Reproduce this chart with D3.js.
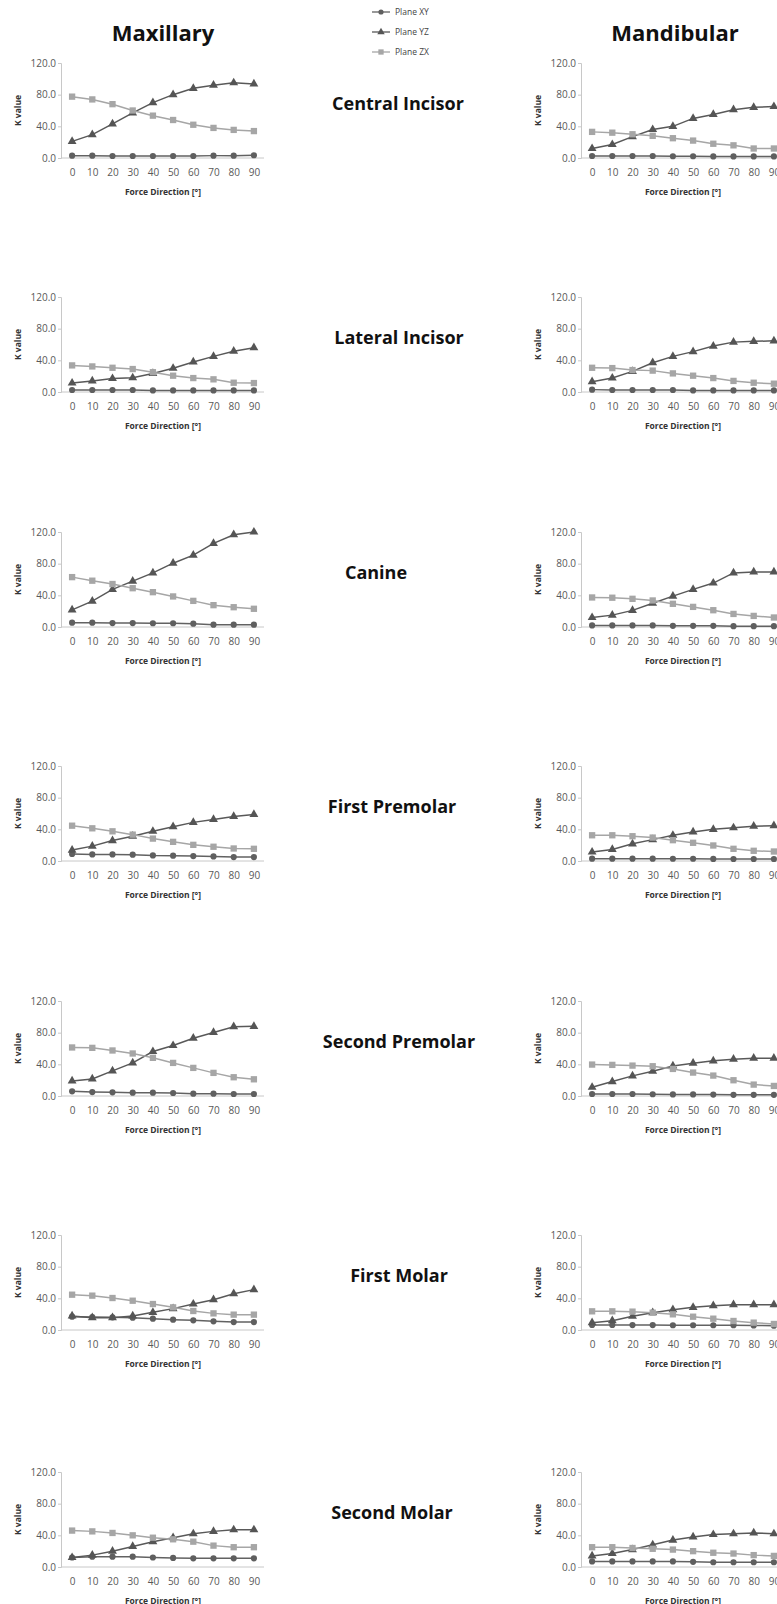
<!DOCTYPE html>
<html>
<head>
<meta charset="utf-8">
<script src="https://cdn.jsdelivr.net/npm/d3@7"></script>
<style>
  body { margin: 0; background: #fff; }
  svg { display: block; font-family: "Open Sans", sans-serif; }
</style>
</head>
<body>
<div id="chart"></div>
<script>
// categories
var directions = [0, 10, 20, 30, 40, 50, 60, 70, 80, 90];
var planes = ["Plane XY", "Plane YZ", "Plane ZX"];
var teeth = ["Central Incisor", "Lateral Incisor", "Canine", "First Premolar",
             "Second Premolar", "First Molar", "Second Molar"];
var jaws = ["Maxillary", "Mandibular"];
var yTicks = [0, 40, 80, 120];

// K values, one row per tooth (same order as teeth)
var maxXY = [
  [3, 3, 2.5, 2.5, 2.5, 2.5, 2.5, 3, 3, 3.5],
  [2.5, 2.5, 2.5, 2.5, 2, 2, 2, 2, 2, 2],
  [5.5, 5.5, 5, 5, 4.7, 4.7, 4.2, 3, 3, 3],
  [8.8, 8.3, 8.3, 8, 7, 6.7, 6.2, 5.8, 5, 5],
  [5.9, 5, 4.6, 4.2, 4.2, 3.8, 3, 3, 2.5, 2.5],
  [16.8, 16.4, 16, 15.6, 14.3, 13, 12.2, 11, 10, 10],
  [12, 13, 13, 13, 12, 11.5, 11, 11, 11, 11]
];
var maxYZ = [
  [21, 29.5, 43, 57, 70, 80, 88, 92, 95, 93.5],
  [11.3, 14, 17, 18, 23.5, 30, 38, 45, 51.6, 56],
  [21.6, 32.7, 47.5, 58, 68.3, 80.6, 90.7, 105.6, 116.6, 120],
  [13.8, 18.8, 25.8, 31.3, 37.5, 43.3, 48.8, 52.5, 56.3, 58.8],
  [19, 21.5, 31.7, 41.8, 56.2, 63.8, 73, 80.3, 87.5, 88],
  [17.7, 15.6, 15.6, 17.7, 22.3, 27, 32.8, 38.3, 45.9, 51],
  [12, 15, 20, 26, 32, 37, 42, 45, 47, 47]
];
var maxZX = [
  [77.5, 74, 68, 60, 53.5, 48, 42, 38, 35.5, 34],
  [33.6, 32.3, 30.6, 29, 25, 20.6, 17.6, 16, 11.7, 11.3],
  [63, 58.5, 54.3, 49, 44, 38.6, 33, 27.6, 25, 23],
  [44.6, 41.3, 37.5, 33.3, 28.3, 24.2, 20.4, 18, 15.8, 15.4],
  [61.3, 60.8, 57.5, 53.7, 48.2, 41.8, 35.5, 29.2, 23.7, 21.1],
  [44.6, 43.4, 40.4, 37, 32.8, 28.6, 24, 21, 19.4, 19.4],
  [46, 45, 43, 40, 37, 35, 32, 27, 25, 25]
];
var manXY = [
  [2.5, 2.5, 2.5, 2.5, 2.2, 2.2, 2, 2, 2, 2],
  [3, 2.5, 2.5, 2.5, 2.5, 2, 2, 2, 2, 2],
  [2, 2, 2, 2, 1.5, 1.5, 1.5, 1, 1, 1],
  [2.9, 2.9, 2.9, 2.9, 2.8, 2.8, 2.6, 2.5, 2.5, 2.5],
  [2.5, 2.5, 2.5, 2.2, 2, 2, 1.8, 1.5, 1.5, 1.5],
  [6.3, 6.3, 6.2, 6.2, 6, 6, 6, 6, 5.8, 5.5],
  [7, 7, 7, 7, 7, 6.5, 6, 6, 6, 6]
];
var manYZ = [
  [12, 17, 27, 36, 40, 50, 55, 61, 64, 65],
  [13, 17.6, 26, 37, 45, 51, 58, 63, 64, 64.6],
  [12, 15, 21, 30, 39, 47.5, 55.5, 68.3, 69.5, 69.5],
  [11.3, 14.6, 21.7, 27, 32.5, 36.7, 40, 42, 44, 44.6],
  [11, 18.2, 25.4, 31.3, 38, 41.4, 44.4, 46.5, 47.7, 47.7],
  [9.3, 11.8, 17.3, 21.9, 25.7, 28.6, 30.7, 32, 32, 32],
  [14, 17, 22, 28, 34, 38, 41, 42, 43, 42]
];
var manZX = [
  [33, 32, 30, 28, 25, 22, 18, 16, 12, 12],
  [30.6, 30.2, 27.7, 27, 23.5, 20.6, 17.6, 14, 11.7, 10.5],
  [37.3, 37, 35.6, 33.5, 29.3, 25.4, 21.2, 16.5, 14, 12],
  [32.5, 32.5, 31.3, 29.6, 26.3, 23, 19.6, 15.4, 12.9, 12],
  [39.7, 39.3, 38.4, 37.6, 34.2, 29.6, 25.8, 19.9, 14.4, 12.7],
  [23.6, 23.6, 23.2, 21.9, 19.8, 16.8, 14.3, 11.4, 9.3, 7.6],
  [25, 25, 24, 23, 22, 20, 18, 17, 15, 14]
];

var jawData = [[maxXY, maxYZ, maxZX], [manXY, manYZ, manZX]];

// layout
var W = 777, H = 1604;
var rowTops = [63, 297, 532, 766, 1001, 1235, 1472];
var colX = [61, 581];
var plotH = 95, plotW = 202;
var titleX = [398, 399, 376, 392, 399, 399, 392];

var lineColors = ["#626262", "#595959", "#a6a6a6"];
var markerColors = ["#5f5f5f", "#555555", "#a6a6a6"];
var symbols = [d3.symbolCircle, d3.symbolTriangle, d3.symbolSquare];
var symSizes = [30, 34, 40];

var svg = d3.select("#chart").append("svg")
    .attr("width", W)
    .attr("height", H);

// column titles
svg.selectAll(".jaw")
  .data(jaws)
  .enter().append("text")
    .attr("class", "jaw")
    .attr("x", function(d, i) { return [163, 675][i]; })
    .attr("y", 41)
    .attr("text-anchor", "middle")
    .style("font-size", "22px")
    .style("font-weight", "bold")
    .attr("fill", "#111")
    .text(function(d) { return d; });

// legend
var legend = svg.append("g");
planes.forEach(function(p, i) {
  var ly = 12 + i * 20;
  legend.append("line")
      .attr("x1", 372).attr("x2", 390)
      .attr("y1", ly).attr("y2", ly)
      .attr("stroke", lineColors[i])
      .attr("stroke-width", 1.3);
  legend.append("path")
      .attr("d", d3.symbol().type(symbols[i]).size(symSizes[i] * 0.7))
      .attr("transform", "translate(381," + ly + ")")
      .attr("fill", markerColors[i]);
  legend.append("text")
      .attr("x", 395).attr("y", ly + 3)
      .style("font-size", "8.5px")
      .attr("fill", "#444")
      .text(p);
});

// row titles
svg.selectAll(".tooth")
  .data(teeth)
  .enter().append("text")
    .attr("class", "tooth")
    .attr("x", function(d, i) { return titleX[i]; })
    .attr("y", function(d, i) { return rowTops[i] + 47; })
    .attr("text-anchor", "middle")
    .style("font-size", "18px")
    .style("font-weight", "bold")
    .attr("fill", "#111")
    .text(function(d) { return d; });

// one small chart per tooth and jaw
teeth.forEach(function(tooth, r) {
  jaws.forEach(function(jaw, c) {
    var x0 = colX[c], top = rowTops[r];

    var x = d3.scalePoint().domain(directions)
        .range([x0 + 1, x0 + 1 + plotW]).padding(0.5);
    var y = d3.scaleLinear().domain([0, 120]).range([top + plotH, top]);

    var g = svg.append("g");

    // y axis
    var yAxis = g.append("g")
        .attr("transform", "translate(" + x0 + ",0)")
        .call(d3.axisLeft(y).tickValues(yTicks).tickSize(3)
              .tickFormat(d3.format(".1f")));
    yAxis.select(".domain").attr("stroke", "#c8c8c8");
    yAxis.selectAll(".tick line").attr("stroke", "#c8c8c8");
    yAxis.selectAll(".tick text")
        .attr("x", -5)
        .attr("fill", "#595959")
        .style("font-size", "10px")
        .style("font-family", "Open Sans, sans-serif");

    // x axis
    var xAxis = g.append("g")
        .attr("transform", "translate(0," + (top + plotH) + ")")
        .call(d3.axisBottom(x).tickSize(0).tickSizeOuter(0));
    xAxis.select(".domain").attr("stroke", "#c8c8c8")
        .attr("d", "M" + x0 + ",0H" + (x0 + 1 + plotW));
    xAxis.selectAll(".tick text")
        .attr("y", 11)
        .attr("fill", "#595959")
        .style("font-size", "10px")
        .style("font-family", "Open Sans, sans-serif");

    // axis titles
    g.append("text")
        .attr("transform", "translate(" + (x0 - 40) + "," + (top + plotH / 2) + ") rotate(-90)")
        .attr("text-anchor", "middle")
        .style("font-size", "8.5px")
        .style("font-weight", "bold")
        .attr("fill", "#333")
        .text("K value");
    g.append("text")
        .attr("x", x0 + 1 + plotW / 2)
        .attr("y", top + 132)
        .attr("text-anchor", "middle")
        .style("font-size", "8.5px")
        .style("font-weight", "bold")
        .attr("fill", "#333")
        .text("Force Direction [°]");

    // series
    jawData[c].forEach(function(series, s) {
      var vals = series[r];
      var line = d3.line()
          .x(function(d, i) { return x(directions[i]); })
          .y(function(d) { return y(d); });
      g.append("path")
          .datum(vals)
          .attr("fill", "none")
          .attr("stroke", lineColors[s])
          .attr("stroke-width", 1.5)
          .attr("d", line);
      g.selectAll(".m" + s)
        .data(vals)
        .enter().append("path")
          .attr("class", "m" + s)
          .attr("d", d3.symbol().type(symbols[s]).size(symSizes[s]))
          .attr("transform", function(d, i) {
            return "translate(" + x(directions[i]) + "," + y(d) + ")";
          })
          .attr("fill", markerColors[s]);
    });
  });
});
</script>
</body>
</html>
